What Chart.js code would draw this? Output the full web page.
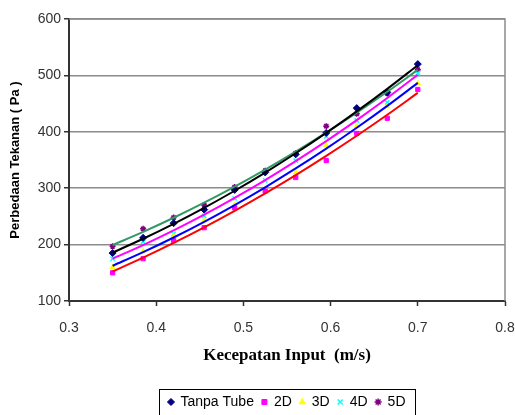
<!DOCTYPE html>
<html>
<head>
<meta charset="utf-8">
<script src="https://cdn.jsdelivr.net/npm/chart.js@4/dist/chart.umd.min.js"></script>
<style>
	html, body { margin: 0; padding: 0; background: #fff; }
	#wrap { width: 515px; height: 415px; }
</style>
</head>
<body>
<div id="wrap"><canvas id="chart" width="515" height="415"></canvas></div>
<script>
const speeds = [0.35, 0.385, 0.42, 0.455, 0.49, 0.525, 0.56, 0.595, 0.63, 0.665, 0.70];
const tanpaTube = [185, 212, 238, 262, 297, 328, 360, 398, 442, 470, 520];
const d2 = [150, 175, 207, 230, 265, 295, 319, 349, 397, 424, 475];
const d3 = [160, 188, 215, 243, 270, 298, 328, 376, 410, 445, 486];
const d4 = [175, 205, 219, 251, 282, 314, 349, 392, 420, 452, 504];
const d5 = [197, 228, 248, 270, 302, 331, 362, 410, 432, 468, 510];
const xTicks = [0.3, 0.4, 0.5, 0.6, 0.7, 0.8];
const yTicks = [100, 200, 300, 400, 500, 600];

const series = [
	{ label: 'Tanpa Tube', data: tanpaTube, color: '#000080', style: 'rectRot', trend: '#000000' },
	{ label: '2D', data: d2, color: '#ff00ff', style: 'rect', trend: '#ff0000' },
	{ label: '3D', data: d3, color: '#ffff00', style: 'triangle', trend: '#0000ff' },
	{ label: '4D', data: d4, color: '#00ffff', style: 'crossRot', trend: '#ff00ff' },
	{ label: '5D', data: d5, color: '#800080', style: 'star', trend: '#339966' },
];

// 2nd order polynomial trendline (least squares), like the spreadsheet does
function polyFit(xs, ys) {
	let s = [0, 0, 0, 0, 0], t = [0, 0, 0];
	for (let i = 0; i < xs.length; i++) {
		let p = 1;
		for (let k = 0; k < 5; k++) { s[k] += p; if (k < 3) t[k] += p * ys[i]; p *= xs[i]; }
	}
	const m = [[s[0], s[1], s[2], t[0]], [s[1], s[2], s[3], t[1]], [s[2], s[3], s[4], t[2]]];
	for (let c = 0; c < 3; c++) {
		for (let r = c + 1; r < 3; r++) {
			const f = m[r][c] / m[c][c];
			for (let k = c; k < 4; k++) m[r][k] -= f * m[c][k];
		}
	}
	const a = [0, 0, 0];
	for (let r = 2; r >= 0; r--) {
		let v = m[r][3];
		for (let k = r + 1; k < 3; k++) v -= m[r][k] * a[k];
		a[r] = v / m[r][r];
	}
	return x => a[0] + a[1] * x + a[2] * x * x;
}

const datasets = [];
series.forEach(s => {
	datasets.push({
		label: s.label,
		data: speeds.map((x, j) => ({ x, y: s.data[j] })),
		pointStyle: s.style,
		pointRadius: s.style === 'rectRot' ? 3.5 : 3,
		pointBackgroundColor: s.color,
		pointBorderColor: s.color,
		pointBorderWidth: s.style === 'crossRot' || s.style === 'star' ? 1.5 : 1,
		backgroundColor: s.color,
		borderColor: s.color,
		showLine: false,
		order: 1,
	});
});
series.forEach(s => {
	const fit = polyFit(speeds, s.data);
	datasets.push({
		label: s.label + ' trend',
		data: speeds.map(x => ({ x, y: fit(x) })),
		showLine: true,
		borderColor: s.trend,
		borderWidth: 2,
		pointRadius: 0,
		cubicInterpolationMode: 'monotone',
		order: 0,
	});
});

const frame = {
	id: 'frame',
	afterLayout(chart) {
		// legend box sits under the plot area, not under the whole canvas
		const l = chart.legend;
		const shift = (chart.chartArea.left + chart.chartArea.right) / 2 - (l.left + l.right) / 2;
		l.left += shift;
		l.right += shift;
	},
	beforeDatasetsDraw(chart) {
		const { ctx, chartArea: a } = chart;
		ctx.save();
		ctx.strokeStyle = '#8c8c8c';
		ctx.lineWidth = 1.5;
		ctx.beginPath();
		ctx.moveTo(a.left, a.top);
		ctx.lineTo(a.right, a.top);
		ctx.lineTo(a.right, a.bottom);
		ctx.stroke();
		ctx.restore();
	},
	afterDraw(chart) {
		const boxes = chart.legend.legendHitBoxes;
		if (!boxes || !boxes.length) return;
		const left = Math.min(...boxes.map(b => b.left)) - 9;
		const right = Math.max(...boxes.map(b => b.left + b.width)) + 10;
		const top = Math.min(...boxes.map(b => b.top)) - 6;
		const bottom = Math.max(...boxes.map(b => b.top + b.height)) + 8;
		const ctx = chart.ctx;
		ctx.save();
		ctx.strokeStyle = '#000';
		ctx.lineWidth = 1;
		ctx.strokeRect(Math.round(left) + 0.5, Math.round(top) + 0.5, Math.round(right - left), Math.round(bottom - top));
		ctx.restore();
	}
};

new Chart(document.getElementById('chart').getContext('2d'), {
	type: 'scatter',
	data: { datasets },
	plugins: [frame],
	options: {
		responsive: false,
		animation: false,
		layout: { padding: { top: 19, right: 10, bottom: -4, left: 8 } },
		scales: {
			x: {
				type: 'linear',
				min: 0.3,
				max: 0.8,
				afterBuildTicks: scale => { scale.ticks = xTicks.map(v => ({ value: v })); },
				afterFit: scale => {
					scale.height = 86;
					scale.paddingLeft = 0;
					scale.paddingRight = 10;
				},
				ticks: {
					color: '#333',
					font: { family: 'Liberation Sans', size: 14 },
					padding: 14,
					maxRotation: 0,
					callback: v => v.toFixed(1),
				},
				grid: { drawOnChartArea: false, drawTicks: true, tickLength: 5, tickColor: '#333', tickWidth: 1.5 },
				border: { color: '#333', width: 2 },
				title: {
					display: true,
					text: 'Kecepatan Input  (m/s)',
					color: '#000',
					font: { family: 'Liberation Serif', size: 17, weight: 'bold' },
					padding: { top: 4, bottom: 21 },
				},
			},
			y: {
				min: 100,
				max: 600,
				afterBuildTicks: scale => { scale.ticks = yTicks.map(v => ({ value: v })); },
				afterFit: scale => { scale.width = 61; },
				ticks: {
					color: '#333',
					font: { family: 'Liberation Sans', size: 14 },
					padding: 3,
				},
				grid: { color: '#8c8c8c', lineWidth: 1.5, tickLength: 5, tickColor: '#333', tickWidth: 1.5 },
				border: { color: '#333', width: 2 },
				title: {
					display: true,
					text: 'Perbedaan Tekanan ( Pa )',
					color: '#000',
					font: { family: 'Liberation Sans', size: 13, weight: 'bold' },
					padding: { top: 0, bottom: 0 },
				},
			},
		},
		plugins: {
			legend: {
				display: true,
				position: 'bottom',
				labels: {
					filter: item => !item.text.endsWith(' trend'),
					usePointStyle: true,
					boxWidth: 5,
					boxHeight: 5,
					padding: 8,
					color: '#000',
					font: { family: 'Liberation Sans', size: 14 },
				},
			},
			tooltip: { enabled: false },
		},
	},
});
</script>
</body>
</html>
